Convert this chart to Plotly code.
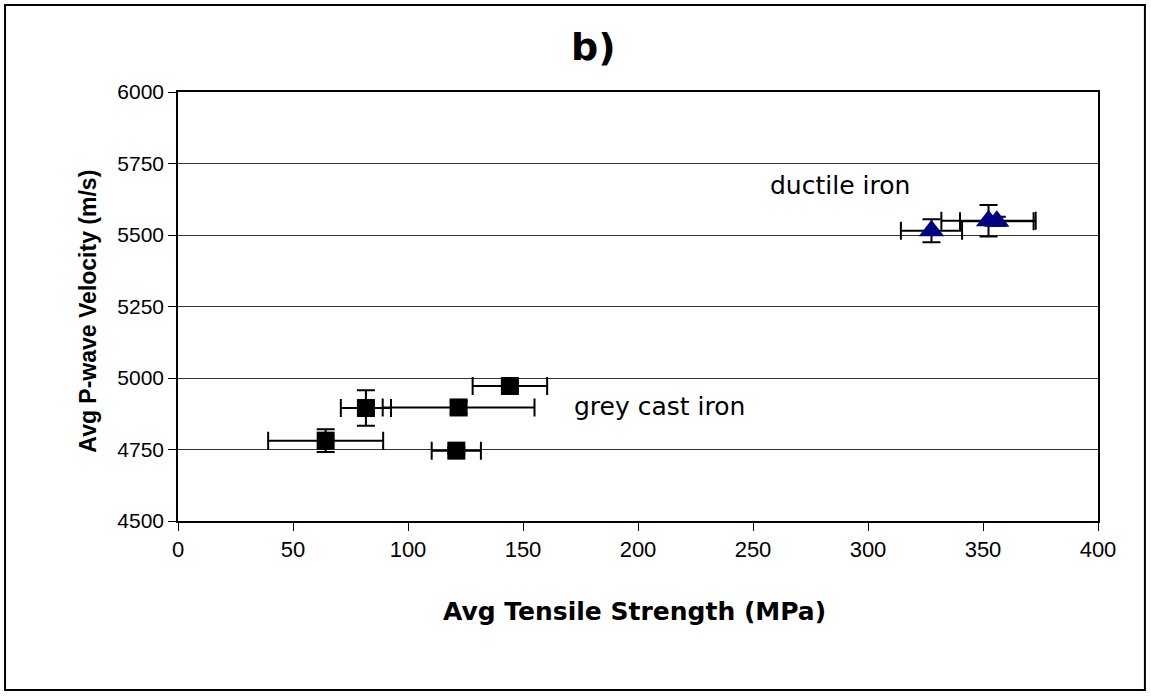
import plotly.graph_objects as go

# Grey cast iron samples
grey_strength = [81.7, 122.0, 144.3, 64.2, 121.0]
grey_velocity = [4895, 4897, 4972, 4781, 4746]
grey_strength_err = [10.9, 33.0, 16.2, 25.0, 10.7]
grey_velocity_err = [62, 22, 12, 40, 10]

# Ductile iron samples
ductile_strength = [327.6, 352.4, 356.0]
ductile_velocity = [5515, 5550, 5548]
ductile_strength_err = [13.3, 20.5, 16.0]
ductile_velocity_err = [40, 55, 16]

x_ticks = [0, 50, 100, 150, 200, 250, 300, 350, 400]
y_ticks = [4500, 4750, 5000, 5250, 5500, 5750, 6000]

ARIAL = "Liberation Sans, Arial, sans-serif"
WIDE = "DejaVu Sans, Verdana, sans-serif"

fig = go.Figure()

fig.add_trace(go.Scatter(
    x=grey_strength, y=grey_velocity, mode="markers",
    marker=dict(symbol="square", size=18, color="black"),
    error_x=dict(type="data", array=grey_strength_err, color="black", thickness=2, width=9),
    error_y=dict(type="data", array=grey_velocity_err, color="black", thickness=2, width=9),
    showlegend=False,
))

fig.add_trace(go.Scatter(
    x=ductile_strength, y=ductile_velocity, mode="markers",
    marker=dict(symbol="triangle-up", size=22, color="#000080"),
    error_x=dict(type="data", array=ductile_strength_err, color="black", thickness=2, width=9),
    error_y=dict(type="data", array=ductile_velocity_err, color="black", thickness=2, width=9),
    showlegend=False,
))

# Group labels
fig.add_annotation(x=319, y=5672, text="ductile iron", showarrow=False,
                   xanchor="right", yanchor="middle",
                   font=dict(family=WIDE, size=25, color="black"))
fig.add_annotation(x=171.5, y=4900, text="grey cast iron", showarrow=False,
                   xanchor="left", yanchor="middle",
                   font=dict(family=WIDE, size=25, color="black"))

# Chart title and axis titles
fig.add_annotation(xref="paper", yref="paper", x=0.452, y=1.105,
                   text="<b>b)</b>", showarrow=False, xanchor="center", yanchor="middle",
                   font=dict(family=WIDE, size=38, color="black"))
fig.add_annotation(xref="paper", yref="paper", x=0.496, y=-0.212,
                   text="<b>Avg Tensile Strength (MPa)</b>", showarrow=False,
                   xanchor="center", yanchor="middle",
                   font=dict(family=WIDE, size=25, color="black"))
fig.add_annotation(xref="paper", yref="paper", x=-0.098, y=0.49, textangle=-90,
                   text="<b>Avg P-wave Velocity (m/s)</b>", showarrow=False,
                   xanchor="center", yanchor="middle",
                   font=dict(family=ARIAL, size=23, color="black"))

# Outer chart frame
fig.add_shape(type="rect", xref="paper", yref="paper",
              x0=-0.188, x1=1.051, y0=-0.394, y1=1.203,
              line=dict(color="black", width=2))

fig.update_layout(
    width=1151, height=698,
    margin=dict(l=178, r=53, t=92, b=177),
    paper_bgcolor="white", plot_bgcolor="white",
    font=dict(family=ARIAL, color="black"),
    xaxis=dict(
        range=[0, 400], tickvals=x_ticks, ticks="outside", ticklen=8, tickcolor="black",
        showgrid=False, zeroline=False, showline=True, linecolor="black", linewidth=1.5,
        mirror=True, tickfont=dict(family=ARIAL, size=22),
    ),
    yaxis=dict(
        range=[4500, 6000], tickvals=y_ticks, ticks="outside", ticklen=8, tickcolor="black",
        showgrid=True, gridcolor="#333333", gridwidth=1, zeroline=False,
        showline=True, linecolor="black", linewidth=1.5, mirror=True,
        tickfont=dict(family=ARIAL, size=21),
    ),
)

fig.write_html("out.html")
